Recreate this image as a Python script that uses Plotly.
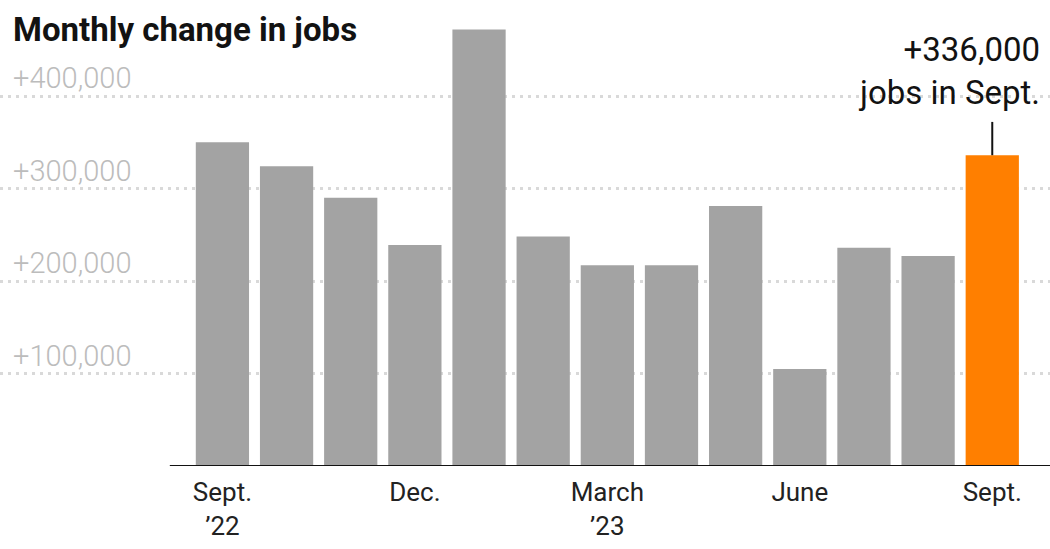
import plotly.graph_objects as go

months = ['Sept. 2022', 'Oct.', 'Nov.', 'Dec.', 'Jan.', 'Feb.', 'March 2023',
          'April', 'May', 'June', 'July', 'Aug.', 'Sept. 2023']
jobs = [350000, 324000, 290000, 239000, 472000, 248000, 217000,
        217000, 281000, 105000, 236000, 227000, 336000]
tick_pos = [0, 3, 6, 9, 12]
tick_text = ['Sept.<br>’22', 'Dec.', 'March<br>’23', 'June', 'Sept.']
grid_vals = [100000, 200000, 300000, 400000]
grid_text = ['+100,000', '+200,000', '+300,000', '+400,000']

font = 'Roboto'
colors = ['#a3a3a3'] * (len(jobs) - 1) + ['#ff7f00']

fig = go.Figure(go.Bar(
    x=list(range(len(months))), y=jobs,
    marker_color=colors, marker_line_width=0,
    width=0.83, hovertext=months,
))

# faint labels above each dotted gridline
for v, t in zip(grid_vals, grid_text):
    fig.add_annotation(x=0, xref='paper', y=v, yref='y', text=t,
                       xanchor='left', yanchor='bottom', xshift=11, yshift=-1,
                       showarrow=False,
                       font=dict(family=font, size=29, color='#bcbcbc', weight=300))

fig.add_annotation(x=0, xref='paper', y=1, yref='paper',
                   text='<b>Monthly change in jobs</b>',
                   xanchor='left', yanchor='top', xshift=11, yshift=-8,
                   showarrow=False,
                   font=dict(family=font, size=33, color='#121212'))

fig.add_annotation(x=1, xref='paper', y=1, yref='paper',
                   text='+336,000<br>jobs in Sept.', align='right',
                   xanchor='right', yanchor='top', xshift=-8, yshift=-28,
                   showarrow=False,
                   font=dict(family=font, size=33, color='#121212'))

fig.add_shape(type='line', x0=12, x1=12, y0=336000, y1=372000,
              line=dict(color='#121212', width=2))
fig.add_shape(type='line', x0=-0.82, x1=12.9, y0=0, y1=0,
              line=dict(color='#121212', width=2))

fig.update_layout(
    width=1050, height=549,
    margin=dict(l=0, r=0, t=0, b=83),
    plot_bgcolor='white', paper_bgcolor='white',
    showlegend=False,
    xaxis=dict(range=[-3.467, 12.9], tickvals=tick_pos, ticktext=tick_text,
               showgrid=False, zeroline=False, showline=False, ticks='',
               tickfont=dict(family=font, size=26, color='#222'),
               ticklabelstandoff=8),
    yaxis=dict(range=[0, 503800], tickvals=grid_vals, showticklabels=False,
               showgrid=True, gridcolor='rgba(0,0,0,0.15)', griddash='3px,5px',
               gridwidth=3, zeroline=False, layer='above traces'),
)

fig.write_html('out.html', config={'displayModeBar': False},
               post_script="document.body.style.margin='0';")
